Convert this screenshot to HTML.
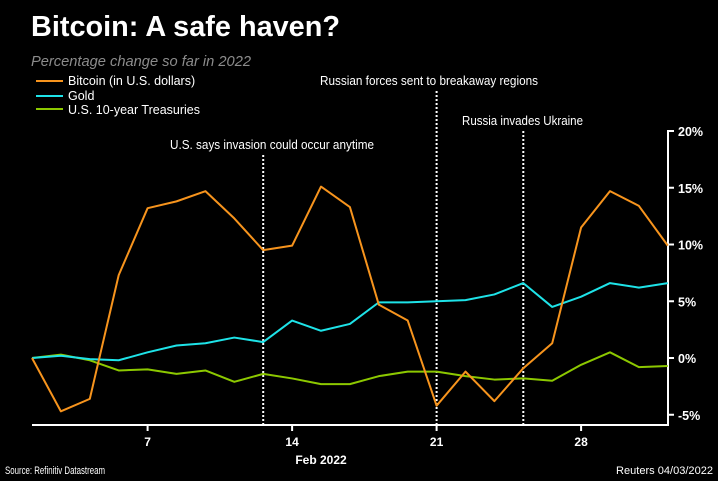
<!DOCTYPE html>
<html><head><meta charset="utf-8"><style>
body{margin:0;background:#000;}
#wrap{position:relative;width:718px;height:481px;background:#000;overflow:hidden;font-family:"Liberation Sans",sans-serif;color:#fff;}
svg text{font-family:"Liberation Sans",sans-serif;}
</style></head><body>
<div id="wrap">
<svg id="chart" width="718" height="481">
<text x="31" y="36" font-size="29" font-weight="bold" fill="#fff" textLength="309" lengthAdjust="spacingAndGlyphs">Bitcoin: A safe haven?</text>
<text x="31" y="66" font-size="15" font-style="italic" fill="#8c8c8c" textLength="220" lengthAdjust="spacingAndGlyphs">Percentage change so far in 2022</text>
<g>
<line x1="36" x2="63" y1="81" y2="81" stroke="#f7941d" stroke-width="2"/>
<text x="68" y="85" font-size="12.5" fill="#fff">Bitcoin (in U.S. dollars)</text>
<line x1="36" x2="63" y1="96" y2="96" stroke="#1ee3e8" stroke-width="2"/>
<text x="68" y="100" font-size="12.5" fill="#fff">Gold</text>
<line x1="36" x2="63" y1="109" y2="109" stroke="#8cc800" stroke-width="2"/>
<text x="68" y="114" font-size="12.5" fill="#fff">U.S. 10-year Treasuries</text>
</g>
<text x="5" y="474" font-size="11" fill="#fff" textLength="100" lengthAdjust="spacingAndGlyphs">Source: Refinitiv Datastream</text>
<text x="616" y="474" font-size="11" fill="#fff" textLength="97" lengthAdjust="spacingAndGlyphs">Reuters 04/03/2022</text>
<text x="321" y="464" font-size="12" font-weight="bold" fill="#fff" text-anchor="middle">Feb 2022</text>
<g id="plot"></g>
</svg>
</div>
<script>
const bitcoin=[0,-4.7,-3.6,7.3,13.2,13.8,14.7,12.3,9.5,9.9,15.1,13.3,4.7,3.3,-4.2,-1.2,-3.8,-0.9,1.3,11.5,14.7,13.4,9.9];
const gold=[0,0.2,-0.1,-0.2,0.5,1.1,1.3,1.8,1.4,3.3,2.4,3.0,4.9,4.9,5.0,5.1,5.6,6.6,4.5,5.4,6.6,6.2,6.6];
const treasuries=[0,0.3,-0.2,-1.1,-1.0,-1.4,-1.1,-2.1,-1.4,-1.8,-2.3,-2.3,-1.6,-1.2,-1.2,-1.6,-1.9,-1.8,-2.0,-0.6,0.5,-0.8,-0.7];
const xTickIdx=[4,9,14,19];
const xTickLabels=["7","14","21","28"];
const yTicks=[-5,0,5,10,15,20];
const eventIdx=[8,14,17];
const eventLabels=["U.S. says invasion could occur anytime","Russian forces sent to breakaway regions","Russia invades Ukraine"];

const NS="http://www.w3.org/2000/svg";
const g=document.getElementById('plot');
const x=i=>32+i*28.9;
const y=v=>358-v*11.35;
function mk(t,a){const e=document.createElementNS(NS,t);for(const k in a)e.setAttribute(k,a[k]);g.appendChild(e);return e;}
let e=mk('line',{x1:32,x2:668,y1:425,y2:425,stroke:'#fff','stroke-width':2});


e=mk('line',{x1:668,x2:668,y1:y(20)-1,y2:426,stroke:'#fff','stroke-width':2});


yTicks.forEach(v=>{
 const t=mk('line',{x1:668,x2:674,y1:y(v),y2:y(v),stroke:'#fff','stroke-width':2});
 
 
 const l=mk('text',{x:678,y:y(v)+5,'font-size':12.5,'font-weight':'bold',fill:'#fff'});
 l.textContent=v+'%';
 
 
});
xTickIdx.forEach((i,k)=>{
 const t=mk('line',{x1:x(i),x2:x(i),y1:425,y2:431,stroke:'#fff','stroke-width':2});
 
 
 const l=mk('text',{x:x(i),y:446,'font-size':12,'font-weight':'bold',fill:'#fff','text-anchor':'middle'});
 l.textContent=xTickLabels[k];
 
 
});
const evTop=[155,91,131];
const evText=[149,85,125];
const evTextX=[170,320,462];
const evTextW=[204,218,121];
eventIdx.forEach((i,k)=>{
 const l=mk('line',{x1:x(i),x2:x(i),y1:evTop[k],y2:425,stroke:'#fff','stroke-width':2,'stroke-dasharray':'2,2'});
 
 
 const t=mk('text',{x:evTextX[k],y:evText[k],'font-size':12.5,fill:'#fff',textLength:evTextW[k],lengthAdjust:'spacingAndGlyphs'});
 t.textContent=eventLabels[k];
 
 
});
function series(arr,col,name){
 const p=mk('polyline',{points:arr.map((v,i)=>x(i)+','+y(v)).join(' '),fill:'none',stroke:col,'stroke-width':2,'stroke-linejoin':'round'});
 
 
}
series(treasuries,'#8cc800','treasuries-line');
series(gold,'#1ee3e8','gold-line');
series(bitcoin,'#f7941d','bitcoin-line');
</script>
</body></html>
